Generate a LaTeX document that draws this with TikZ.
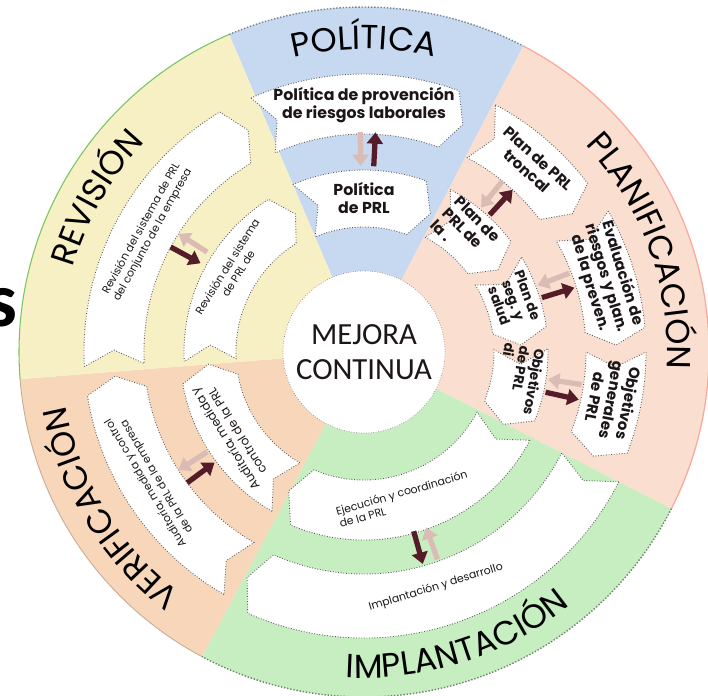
\documentclass[tikz,border=0pt]{standalone}
\usepackage{fontspec}
\setmainfont{Poppins}
\newfontfamily\mejorafont{Carlito}
\usetikzlibrary{arrows.meta}
\usetikzlibrary{decorations.text}
\definecolor{pol-blue}{RGB}{198,217,240}
\definecolor{plan-pink}{RGB}{250,222,208}
\definecolor{impl-green}{RGB}{198,238,192}
\definecolor{verif-peach}{RGB}{248,214,186}
\definecolor{rev-yellow}{RGB}{247,240,196}
\definecolor{arrow-dark}{RGB}{84,28,40}
\definecolor{arrow-light}{RGB}{218,188,180}
\definecolor{text-dark}{RGB}{28,22,24}

% one white band piece: start angle, end angle (clockwise), inner r, outer r
\newcommand{\prlband}[4]{%
  \pgfmathsetmacro{\prlmid}{(#3+#4)/2}%
  \pgfmathsetmacro{\prltip}{8.6/\prlmid}%
  \filldraw[band] (#1:#4) arc[start angle=#1, end angle=#2, radius=#4]
    -- ({#2-\prltip}:\prlmid) -- (#2:#3)
    arc[start angle=#2, end angle=#1, radius=#3]
    -- ({#1-\prltip}:\prlmid) -- cycle;}

\begin{document}
\begin{tikzpicture}[scale=2, >=Triangle,
band/.style={fill=white, draw=black!65, densely dotted, line width=0.5pt},
txtbig/.style={align=center, text=text-dark, inner sep=0pt, font=\fontsize{9}{10.6}\selectfont\bfseries},
txtpink/.style={align=center, text=text-dark, inner sep=0pt, font=\fontsize{8.6}{9.6}\selectfont\bfseries},
txtsmall/.style={align=center, text=text-dark, inner sep=0pt, font=\fontsize{6.2}{7.4}\selectfont},
txtmed/.style={align=center, text=text-dark, inner sep=0pt, font=\fontsize{6.9}{8.1}\selectfont},
arrdark/.style={draw=arrow-dark, line width=3pt, -{Triangle[width=9pt, length=6.5pt]}},
arrlight/.style={draw=arrow-light, line width=3pt, -{Triangle[width=9pt, length=6.5pt]}},
title/.style={decorate, decoration={text along path, text align=center, text={|\fontsize{19}{19}\selectfont|#1}}}]
\useasboundingbox (-3.64,-3.43) rectangle (3.44,3.52);

% sectors
\fill[pol-blue] (0,0) -- (113:3.45) arc[start angle=113, end angle=62.5, radius=3.45] -- cycle;
\fill[plan-pink] (0,0) -- (62.5:3.45) arc[start angle=62.5, end angle=-27, radius=3.45] -- cycle;
\fill[impl-green] (0,0) -- (-27:3.45) arc[start angle=-27, end angle=-118, radius=3.45] -- cycle;
\fill[verif-peach] (0,0) -- (242:3.45) arc[start angle=242, end angle=184.5, radius=3.45] -- cycle;
\fill[rev-yellow] (0,0) -- (184.5:3.45) arc[start angle=184.5, end angle=113, radius=3.45] -- cycle;

% rim
\draw[pol-blue!60!black, densely dotted, line width=0.8pt] (113:3.45) arc[start angle=113, end angle=62.5, radius=3.45];
\draw[plan-pink!75!red, line width=0.7pt] (62.5:3.45) arc[start angle=62.5, end angle=-27, radius=3.45];
\draw[impl-green!55!black, densely dotted, line width=0.8pt] (-27:3.45) arc[start angle=-27, end angle=-118, radius=3.45];
\draw[verif-peach!80!black, line width=0.5pt] (242:3.45) arc[start angle=242, end angle=184.5, radius=3.45];
\draw[rev-yellow!60!green!80!black, line width=0.6pt] (184.5:3.45) arc[start angle=184.5, end angle=113, radius=3.45];

% outer bands
\prlband{114}{70}{2.18}{2.78}
\prlband{62}{37}{2.20}{2.80}
\prlband{30}{5}{2.22}{2.82}
\prlband{0}{-21}{2.22}{2.82}
\prlband{-27}{-114}{2.22}{2.86}
\prlband{240}{189}{2.20}{2.80}
\prlband{183}{121}{2.20}{2.80}

% inner bands
\prlband{113}{70}{1.25}{1.82}
\prlband{62}{37}{1.30}{1.84}
\prlband{31}{8}{1.30}{1.84}
\prlband{1}{-22}{1.30}{1.84}
\prlband{-28}{-113}{1.28}{1.88}
\prlband{240}{190}{1.28}{1.84}
\prlband{183}{122}{1.28}{1.80}

% double arrows
\draw[arrlight] (91:2.20) -- (91:1.86);
\draw[arrdark] (87:1.86) -- (87:2.20);
\draw[arrlight] (51:2.20) -- (51:1.86);
\draw[arrdark] (47.5:1.86) -- (47.5:2.20);
\draw[arrlight] (21:2.20) -- (21:1.86);
\draw[arrdark] (17:1.86) -- (17:2.20);
\draw[arrlight] (-8.5:2.20) -- (-8.5:1.86);
\draw[arrdark] (-12.5:1.86) -- (-12.5:2.20);
\draw[arrlight] (-70.5:2.20) -- (-70.5:1.86);
\draw[arrdark] (-74.5:1.86) -- (-74.5:2.20);
\draw[arrlight] (212.5:1.86) -- (212.5:2.20);
\draw[arrdark] (216.5:2.20) -- (216.5:1.86);
\draw[arrlight] (147.5:1.86) -- (147.5:2.20);
\draw[arrdark] (151.5:2.20) -- (151.5:1.86);

% band texts
\node[txtbig] (polA) at (90:2.47) {Política de provención\\de riesgos laborales};
\node[txtbig] (polB) at (90:1.54) {Política\\de PRL};
\node[txtpink, rotate=-42] (planA) at (48:2.52) {Plan de PRL\\troncal};
\node[txtpink, rotate=-73] (planB) at (17:2.53) {Evaluación de\\riesgos y plan.\\de la preven.};
\node[txtpink, rotate=-101] (planC) at (-11:2.53) {Objetivos\\generales\\de PRL};
\node[txtpink, rotate=-45, align=left] (planD) at (50:1.58) {Plan de\\PRL de\\la .};
\node[txtpink, rotate=-70, font=\fontsize{7.8}{8.6}\selectfont\bfseries] (planE) at (19:1.58) {Plan de\\seg. y\\salud};
\node[txtpink, rotate=-100, align=left, font=\fontsize{7.8}{8.6}\selectfont\bfseries] (planF) at (-10:1.58) {Objetivos\\de PRL\\di};
\node[txtsmall, rotate=17] (impA) at (-73:2.46) {Implantación y desarrollo};
\node[txtsmall, rotate=16, align=left] (impB) at (-75:1.52) {Ejecución y coordinación\\de la PRL};
\node[txtsmall, rotate=121] (verA) at (211:2.48) {Auditoría, medida y control\\de la PRL de la empresa};
\node[txtmed, rotate=122] (verB) at (212:1.57) {Auditoría, medida y\\control de la PRL};
\node[txtsmall, rotate=61] (revA) at (151:2.48) {Revisión del sistema de PRL\\del conjunto de la empresa};
\node[txtsmall, rotate=58] (revB) at (148:1.55) {Revisión del sistema\\de PRL de};

% titles
\path[title=POLÍTICA] (130:3.03) arc[start angle=130, end angle=50, radius=3.03];
\path[title=PLANIFICACIÓN] (78:3.03) arc[start angle=78, end angle=-38, radius=3.03];
\path[title=IMPLANTACIÓN] (-130:3.26) arc[start angle=-130, end angle=-14, radius=3.26];
\path[title=VERIFICACIÓN] (265:3.03) arc[start angle=265, end angle=158, radius=3.03];
\path[title=REVISIÓN] (200:3.03) arc[start angle=200, end angle=100, radius=3.03];

% centre
\node[circle, fill=white, draw=black!45, densely dotted, minimum size=3.24cm, align=center,
  text=text-dark, font=\mejorafont\fontsize{17.5}{20}\selectfont] (mejora) at (0,0) {MEJORA\\CONTINUA};

% cut-off letter at the left
\node[font=\mejorafont\fontsize{44}{44}\selectfont\bfseries] (sfrag) at (-3.62,0.44) {s};
\end{tikzpicture}
\end{document}
